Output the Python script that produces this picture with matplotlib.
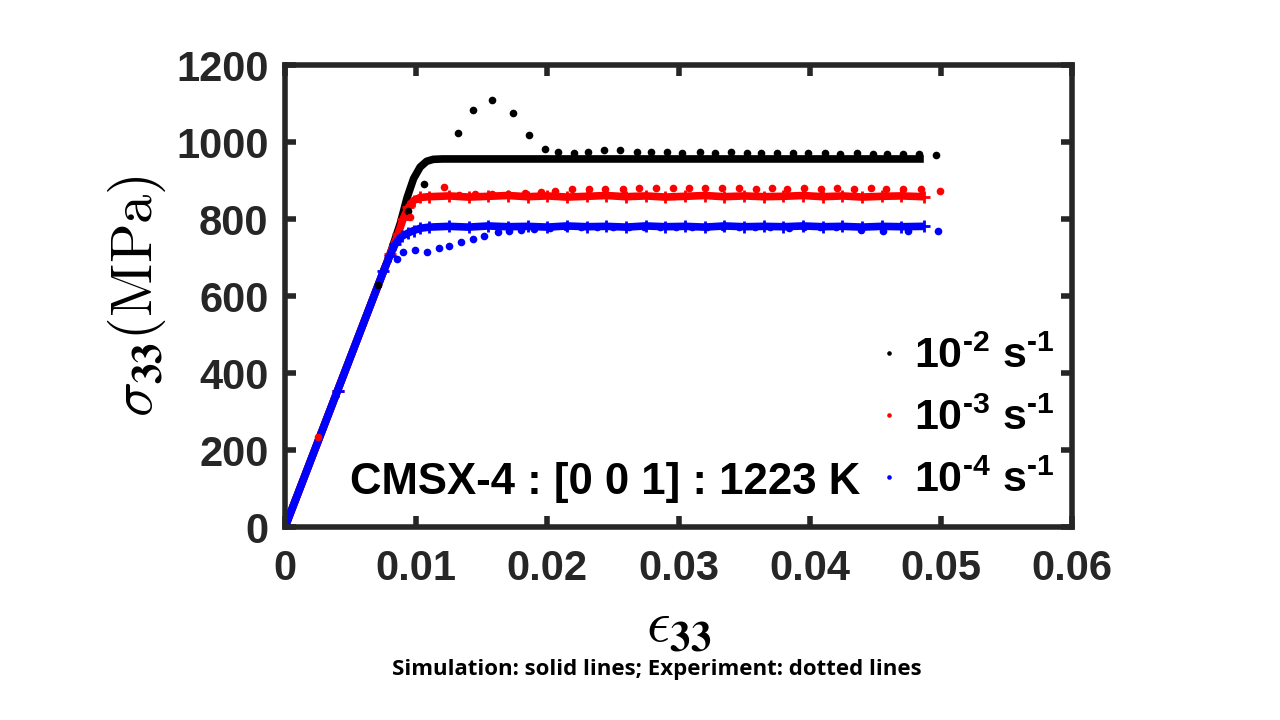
import matplotlib
matplotlib.use("Agg")
import matplotlib.pyplot as plt

# simulation curves (solid)
eps_sim_k = [0, 0.0040, 0.0080, 0.0088, 0.0093, 0.0098, 0.0103, 0.0108, 0.0113, 0.0120, 0.0200, 0.0300, 0.0400, 0.0487]
sig_sim_k = [0, 354, 708, 790, 855, 905, 935, 950, 955, 956, 956, 956, 956, 956]

eps_sim_r = [0, 0.0040, 0.0080, 0.0086, 0.0090, 0.0094, 0.0098, 0.0103, 0.0110, 0.0125, 0.0140, 0.0155,
             0.0170, 0.0185, 0.0200, 0.0215, 0.0230, 0.0245, 0.0260, 0.0275, 0.0290, 0.0305, 0.0320,
             0.0335, 0.0350, 0.0365, 0.0380, 0.0395, 0.0410, 0.0425, 0.0440, 0.0455, 0.0470, 0.0487]
sig_sim_r = [0, 354, 708, 760, 800, 830, 848, 856, 858, 860, 857, 859, 861, 858, 860, 857, 859, 861, 858,
             860, 857, 859, 861, 858, 860, 858, 859, 861, 858, 860, 857, 859, 860, 858]

eps_sim_b = [0, 0.0040, 0.0075, 0.0080, 0.0084, 0.0089, 0.0094, 0.0098, 0.0103, 0.0110, 0.0125, 0.0140,
             0.0155, 0.0170, 0.0185, 0.0200, 0.0215, 0.0230, 0.0245, 0.0260, 0.0275, 0.0290, 0.0305,
             0.0320, 0.0335, 0.0350, 0.0365, 0.0380, 0.0395, 0.0410, 0.0425, 0.0440, 0.0455, 0.0470, 0.0487]
sig_sim_b = [0, 354, 664, 705, 735, 755, 764, 770, 776, 779, 781, 779, 782, 780, 781, 779, 782, 780, 781,
             779, 782, 780, 781, 779, 782, 780, 781, 780, 782, 780, 781, 779, 781, 780, 781]

# experiment (dotted)
eps_exp_k = [0.0071, 0.0094, 0.0106, 0.0132, 0.0143, 0.0158, 0.0174, 0.0186, 0.0198, 0.0208, 0.0220,
             0.0231, 0.0243, 0.0255, 0.0268, 0.0279, 0.0291, 0.0303, 0.0316, 0.0328, 0.0340, 0.0352,
             0.0363, 0.0375, 0.0387, 0.0399, 0.0412, 0.0423, 0.0436, 0.0448, 0.0459, 0.0471, 0.0483, 0.0496]
sig_exp_k = [628, 821, 890, 1023, 1082, 1110, 1075, 1018, 983, 973, 971, 975, 978, 978, 975, 975, 973,
             972, 973, 972, 973, 971, 972, 972, 971, 972, 971, 970, 971, 970, 970, 969, 969, 965]

eps_exp_r = [0.0025, 0.0095, 0.0121, 0.0133, 0.0145, 0.0158, 0.0170, 0.0183, 0.0195, 0.0206, 0.0219,
             0.0232, 0.0244, 0.0258, 0.0270, 0.0283, 0.0296, 0.0308, 0.0320, 0.0333, 0.0346, 0.0359,
             0.0371, 0.0383, 0.0396, 0.0409, 0.0421, 0.0434, 0.0447, 0.0458, 0.0471, 0.0485, 0.0499]
sig_exp_r = [235, 805, 883, 862, 864, 865, 866, 868, 871, 874, 878, 878, 878, 878, 880, 880, 881, 880,
             881, 880, 880, 879, 880, 879, 880, 879, 880, 879, 880, 878, 879, 879, 873]

eps_exp_b = [0.0085, 0.0090, 0.0099, 0.0108, 0.0117, 0.0125, 0.0134, 0.0143, 0.0152, 0.0162, 0.0171,
             0.0180, 0.0190, 0.0202, 0.0214, 0.0226, 0.0238, 0.0250, 0.0262, 0.0274, 0.0286, 0.0298,
             0.0310, 0.0322, 0.0334, 0.0346, 0.0358, 0.0370, 0.0384, 0.0396, 0.0408, 0.0420, 0.0439,
             0.0456, 0.0475, 0.0498]
sig_exp_b = [696, 715, 719, 715, 724, 731, 741, 748, 757, 765, 768, 772, 775, 777, 778, 779, 779, 780,
             780, 780, 780, 780, 780, 780, 780, 780, 780, 779, 776, 779, 779, 779, 772, 770, 769, 769]

labels = [r'10$^{\text{-2}}$ s$^{\text{-1}}$', r'10$^{\text{-3}}$ s$^{\text{-1}}$',
          r'10$^{\text{-4}}$ s$^{\text{-1}}$']
xticks = [0, 0.01, 0.02, 0.03, 0.04, 0.05, 0.06]
xtick_labels = ['0', '0.01', '0.02', '0.03', '0.04', '0.05', '0.06']
yticks = [0, 200, 400, 600, 800, 1000, 1200]

plt.rcParams['font.family'] = ['Liberation Sans', 'DejaVu Sans']
plt.rcParams['font.weight'] = 'bold'
plt.rcParams['mathtext.fontset'] = 'custom'
plt.rcParams['mathtext.rm'] = 'Liberation Sans:bold'
plt.rcParams['mathtext.it'] = 'Liberation Sans:bold'
plt.rcParams['mathtext.bf'] = 'Liberation Sans:bold'
plt.rcParams['mathtext.default'] = 'rm'

fig = plt.figure(figsize=(12.8, 7.2), dpi=100)
ax = fig.add_axes([0.2227, 0.268, 0.6148, 0.6417])

ax.plot(eps_sim_k, sig_sim_k, '-', color='k', lw=5.5, solid_capstyle='butt')
ax.plot(eps_sim_r, sig_sim_r, '-+', color='r', lw=5.5, ms=8, mew=2, solid_capstyle='butt')
ax.plot(eps_sim_b, sig_sim_b, '-+', color='b', lw=5.5, ms=8, mew=2, solid_capstyle='butt')

h1, = ax.plot(eps_exp_k, sig_exp_k, 'o', color='k', ms=5.5, mew=0, label=labels[0])
h2, = ax.plot(eps_exp_r, sig_exp_r, 'o', color='r', ms=5.5, mew=0, label=labels[1])
h3, = ax.plot(eps_exp_b, sig_exp_b, 'o', color='b', ms=5.5, mew=0, label=labels[2])

ax.set_xlim(0, 0.06)
ax.set_ylim(0, 1200)
ax.set_xticks(xticks)
ax.set_xticklabels(xtick_labels)
ax.set_yticks(yticks)
ax.tick_params(direction='in', length=8, width=4, colors='#262626', labelsize=30,
               top=True, right=True)
ax.tick_params(axis='x', pad=16)
ax.tick_params(axis='y', pad=12)
for lab in ax.get_xticklabels() + ax.get_yticklabels():
    lab.set_fontweight('bold')
for s in ax.spines.values():
    s.set_linewidth(4)
    s.set_color('#262626')

# bold subscript digits (U+1D7D1)
ax.set_ylabel('$\\sigma_{\U0001D7D1\U0001D7D1}(\\mathrm{MPa})$', fontsize=42, math_fontfamily='cm', labelpad=6)
ax.set_xlabel('$\\epsilon_{\U0001D7D1\U0001D7D1}$', fontsize=42, math_fontfamily='cm', labelpad=8)

ax.text(0.083, 0.097, 'CMSX-4 : [0 0 1] : 1223 K', transform=ax.transAxes,
        fontsize=31.5, fontweight='bold', va='center', ha='left')

ax.legend(handles=[h1, h2, h3], loc='lower right', bbox_to_anchor=(1.0, 0.02),
          frameon=False, fontsize=31, markerscale=0.6, handlelength=0.4,
          handletextpad=0.4, labelspacing=0.5, borderaxespad=0.0)

fig.text(0.513, 1 - 670 / 720, 'Simulation: solid lines; Experiment: dotted lines',
         family=['Open Sans', 'DejaVu Sans'], fontweight='bold', fontsize=16,
         ha='center', va='center')

fig.savefig('out.png', dpi=100)
